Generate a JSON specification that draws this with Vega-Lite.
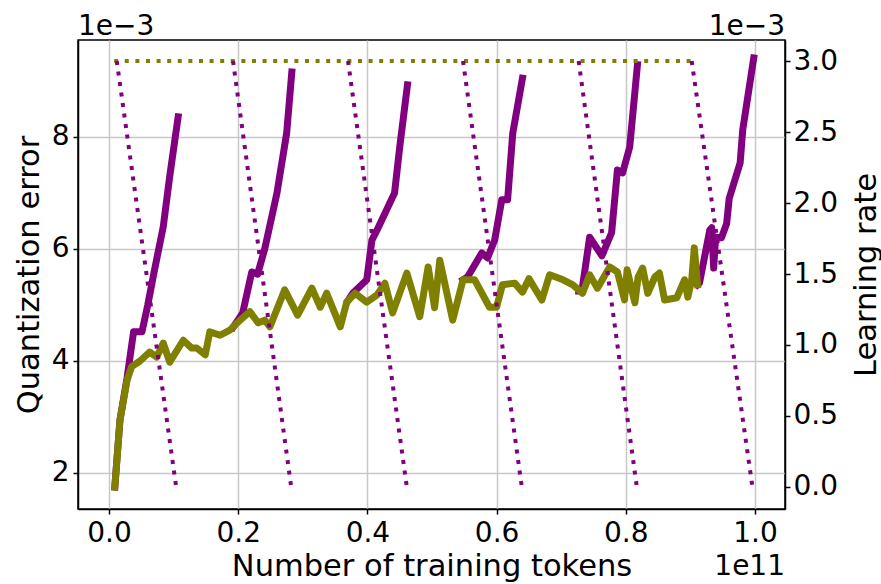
{
  "$schema": "https://vega.github.io/schema/vega-lite/v6.json",
  "width": 707,
  "height": 469,
  "autosize": {"type": "none"},
  "padding": {"left": 78, "top": 40, "right": 96, "bottom": 75},
  "datasets": {
    "error": [
      {"run": "cyclic", "seg": 1, "tokens": 0.009, "error": 1.75},
      {"run": "cyclic", "seg": 1, "tokens": 0.017, "error": 2.95},
      {"run": "cyclic", "seg": 1, "tokens": 0.028, "error": 3.7},
      {"run": "cyclic", "seg": 1, "tokens": 0.038, "error": 4.52},
      {"run": "cyclic", "seg": 1, "tokens": 0.051, "error": 4.52},
      {"run": "cyclic", "seg": 1, "tokens": 0.060, "error": 5.0},
      {"run": "cyclic", "seg": 1, "tokens": 0.070, "error": 5.6},
      {"run": "cyclic", "seg": 1, "tokens": 0.084, "error": 6.4},
      {"run": "cyclic", "seg": 1, "tokens": 0.094, "error": 7.3},
      {"run": "cyclic", "seg": 1, "tokens": 0.107, "error": 8.36},
      {"run": "cyclic", "seg": 2, "tokens": 0.192, "error": 4.6},
      {"run": "cyclic", "seg": 2, "tokens": 0.207, "error": 4.86},
      {"run": "cyclic", "seg": 2, "tokens": 0.221, "error": 5.59},
      {"run": "cyclic", "seg": 2, "tokens": 0.230, "error": 5.55},
      {"run": "cyclic", "seg": 2, "tokens": 0.241, "error": 6.0},
      {"run": "cyclic", "seg": 2, "tokens": 0.260, "error": 7.0},
      {"run": "cyclic", "seg": 2, "tokens": 0.275, "error": 8.07},
      {"run": "cyclic", "seg": 2, "tokens": 0.283, "error": 9.16},
      {"run": "cyclic", "seg": 3, "tokens": 0.370, "error": 5.08},
      {"run": "cyclic", "seg": 3, "tokens": 0.378, "error": 5.22},
      {"run": "cyclic", "seg": 3, "tokens": 0.399, "error": 5.45},
      {"run": "cyclic", "seg": 3, "tokens": 0.407, "error": 6.16},
      {"run": "cyclic", "seg": 3, "tokens": 0.415, "error": 6.34},
      {"run": "cyclic", "seg": 3, "tokens": 0.442, "error": 7.0},
      {"run": "cyclic", "seg": 3, "tokens": 0.450, "error": 7.82},
      {"run": "cyclic", "seg": 3, "tokens": 0.462, "error": 8.93},
      {"run": "cyclic", "seg": 4, "tokens": 0.548, "error": 5.45},
      {"run": "cyclic", "seg": 4, "tokens": 0.555, "error": 5.5},
      {"run": "cyclic", "seg": 4, "tokens": 0.577, "error": 5.93},
      {"run": "cyclic", "seg": 4, "tokens": 0.586, "error": 5.84},
      {"run": "cyclic", "seg": 4, "tokens": 0.597, "error": 6.16},
      {"run": "cyclic", "seg": 4, "tokens": 0.608, "error": 6.88},
      {"run": "cyclic", "seg": 4, "tokens": 0.617, "error": 6.88},
      {"run": "cyclic", "seg": 4, "tokens": 0.625, "error": 8.07},
      {"run": "cyclic", "seg": 4, "tokens": 0.640, "error": 9.05},
      {"run": "cyclic", "seg": 5, "tokens": 0.727, "error": 5.25},
      {"run": "cyclic", "seg": 5, "tokens": 0.732, "error": 5.25},
      {"run": "cyclic", "seg": 5, "tokens": 0.744, "error": 6.21},
      {"run": "cyclic", "seg": 5, "tokens": 0.763, "error": 5.88},
      {"run": "cyclic", "seg": 5, "tokens": 0.778, "error": 6.29},
      {"run": "cyclic", "seg": 5, "tokens": 0.787, "error": 7.41},
      {"run": "cyclic", "seg": 5, "tokens": 0.795, "error": 7.36},
      {"run": "cyclic", "seg": 5, "tokens": 0.806, "error": 7.82},
      {"run": "cyclic", "seg": 5, "tokens": 0.818, "error": 9.29},
      {"run": "cyclic", "seg": 6, "tokens": 0.911, "error": 5.36},
      {"run": "cyclic", "seg": 6, "tokens": 0.914, "error": 5.39},
      {"run": "cyclic", "seg": 6, "tokens": 0.930, "error": 6.34},
      {"run": "cyclic", "seg": 6, "tokens": 0.933, "error": 6.38},
      {"run": "cyclic", "seg": 6, "tokens": 0.936, "error": 5.66},
      {"run": "cyclic", "seg": 6, "tokens": 0.939, "error": 6.21},
      {"run": "cyclic", "seg": 6, "tokens": 0.948, "error": 6.2},
      {"run": "cyclic", "seg": 6, "tokens": 0.956, "error": 6.45},
      {"run": "cyclic", "seg": 6, "tokens": 0.960, "error": 6.9},
      {"run": "cyclic", "seg": 6, "tokens": 0.977, "error": 7.54},
      {"run": "cyclic", "seg": 6, "tokens": 0.981, "error": 8.13},
      {"run": "cyclic", "seg": 6, "tokens": 0.998, "error": 9.41},
      {"run": "constant", "seg": 0, "tokens": 0.009, "error": 1.75},
      {"run": "constant", "seg": 0, "tokens": 0.017, "error": 2.95},
      {"run": "constant", "seg": 0, "tokens": 0.028, "error": 3.66},
      {"run": "constant", "seg": 0, "tokens": 0.035, "error": 3.9},
      {"run": "constant", "seg": 0, "tokens": 0.048, "error": 4.0},
      {"run": "constant", "seg": 0, "tokens": 0.063, "error": 4.16},
      {"run": "constant", "seg": 0, "tokens": 0.074, "error": 4.07},
      {"run": "constant", "seg": 0, "tokens": 0.084, "error": 4.32},
      {"run": "constant", "seg": 0, "tokens": 0.094, "error": 3.98},
      {"run": "constant", "seg": 0, "tokens": 0.115, "error": 4.37},
      {"run": "constant", "seg": 0, "tokens": 0.128, "error": 4.23},
      {"run": "constant", "seg": 0, "tokens": 0.136, "error": 4.23},
      {"run": "constant", "seg": 0, "tokens": 0.149, "error": 4.11},
      {"run": "constant", "seg": 0, "tokens": 0.156, "error": 4.52},
      {"run": "constant", "seg": 0, "tokens": 0.172, "error": 4.46},
      {"run": "constant", "seg": 0, "tokens": 0.187, "error": 4.55},
      {"run": "constant", "seg": 0, "tokens": 0.203, "error": 4.73},
      {"run": "constant", "seg": 0, "tokens": 0.218, "error": 4.88},
      {"run": "constant", "seg": 0, "tokens": 0.231, "error": 4.68},
      {"run": "constant", "seg": 0, "tokens": 0.241, "error": 4.73},
      {"run": "constant", "seg": 0, "tokens": 0.249, "error": 4.61},
      {"run": "constant", "seg": 0, "tokens": 0.272, "error": 5.27},
      {"run": "constant", "seg": 0, "tokens": 0.292, "error": 4.82},
      {"run": "constant", "seg": 0, "tokens": 0.314, "error": 5.30},
      {"run": "constant", "seg": 0, "tokens": 0.327, "error": 4.96},
      {"run": "constant", "seg": 0, "tokens": 0.337, "error": 5.21},
      {"run": "constant", "seg": 0, "tokens": 0.358, "error": 4.61},
      {"run": "constant", "seg": 0, "tokens": 0.368, "error": 5.05},
      {"run": "constant", "seg": 0, "tokens": 0.381, "error": 5.21},
      {"run": "constant", "seg": 0, "tokens": 0.399, "error": 5.05},
      {"run": "constant", "seg": 0, "tokens": 0.415, "error": 5.18},
      {"run": "constant", "seg": 0, "tokens": 0.427, "error": 5.39},
      {"run": "constant", "seg": 0, "tokens": 0.439, "error": 4.86},
      {"run": "constant", "seg": 0, "tokens": 0.461, "error": 5.57},
      {"run": "constant", "seg": 0, "tokens": 0.481, "error": 4.79},
      {"run": "constant", "seg": 0, "tokens": 0.494, "error": 5.68},
      {"run": "constant", "seg": 0, "tokens": 0.504, "error": 4.95},
      {"run": "constant", "seg": 0, "tokens": 0.512, "error": 5.80},
      {"run": "constant", "seg": 0, "tokens": 0.532, "error": 4.73},
      {"run": "constant", "seg": 0, "tokens": 0.548, "error": 5.45},
      {"run": "constant", "seg": 0, "tokens": 0.566, "error": 5.45},
      {"run": "constant", "seg": 0, "tokens": 0.589, "error": 4.96},
      {"run": "constant", "seg": 0, "tokens": 0.600, "error": 4.96},
      {"run": "constant", "seg": 0, "tokens": 0.609, "error": 5.36},
      {"run": "constant", "seg": 0, "tokens": 0.628, "error": 5.39},
      {"run": "constant", "seg": 0, "tokens": 0.640, "error": 5.23},
      {"run": "constant", "seg": 0, "tokens": 0.650, "error": 5.47},
      {"run": "constant", "seg": 0, "tokens": 0.670, "error": 5.09},
      {"run": "constant", "seg": 0, "tokens": 0.682, "error": 5.54},
      {"run": "constant", "seg": 0, "tokens": 0.703, "error": 5.45},
      {"run": "constant", "seg": 0, "tokens": 0.718, "error": 5.36},
      {"run": "constant", "seg": 0, "tokens": 0.733, "error": 5.21},
      {"run": "constant", "seg": 0, "tokens": 0.744, "error": 5.54},
      {"run": "constant", "seg": 0, "tokens": 0.756, "error": 5.30},
      {"run": "constant", "seg": 0, "tokens": 0.775, "error": 5.68},
      {"run": "constant", "seg": 0, "tokens": 0.787, "error": 5.59},
      {"run": "constant", "seg": 0, "tokens": 0.798, "error": 5.09},
      {"run": "constant", "seg": 0, "tokens": 0.802, "error": 5.63},
      {"run": "constant", "seg": 0, "tokens": 0.814, "error": 5.04},
      {"run": "constant", "seg": 0, "tokens": 0.819, "error": 5.5},
      {"run": "constant", "seg": 0, "tokens": 0.826, "error": 5.66},
      {"run": "constant", "seg": 0, "tokens": 0.834, "error": 5.21},
      {"run": "constant", "seg": 0, "tokens": 0.845, "error": 5.50},
      {"run": "constant", "seg": 0, "tokens": 0.852, "error": 5.57},
      {"run": "constant", "seg": 0, "tokens": 0.860, "error": 5.09},
      {"run": "constant", "seg": 0, "tokens": 0.879, "error": 5.13},
      {"run": "constant", "seg": 0, "tokens": 0.886, "error": 5.32},
      {"run": "constant", "seg": 0, "tokens": 0.891, "error": 5.45},
      {"run": "constant", "seg": 0, "tokens": 0.896, "error": 5.14},
      {"run": "constant", "seg": 0, "tokens": 0.902, "error": 5.45},
      {"run": "constant", "seg": 0, "tokens": 0.906, "error": 6.02},
      {"run": "constant", "seg": 0, "tokens": 0.911, "error": 5.36}
    ],
    "lr": [
      {"run": "constant", "seg": 0, "tokens": 0.008, "lr": 3.0},
      {"run": "constant", "seg": 0, "tokens": 0.902, "lr": 3.0},
      {"run": "cyclic", "seg": 1, "tokens": 0.012, "lr": 3.0},
      {"run": "cyclic", "seg": 1, "tokens": 0.104, "lr": 0.0},
      {"run": "cyclic", "seg": 2, "tokens": 0.192, "lr": 3.0},
      {"run": "cyclic", "seg": 2, "tokens": 0.282, "lr": 0.0},
      {"run": "cyclic", "seg": 3, "tokens": 0.370, "lr": 3.0},
      {"run": "cyclic", "seg": 3, "tokens": 0.461, "lr": 0.0},
      {"run": "cyclic", "seg": 4, "tokens": 0.548, "lr": 3.0},
      {"run": "cyclic", "seg": 4, "tokens": 0.639, "lr": 0.0},
      {"run": "cyclic", "seg": 5, "tokens": 0.727, "lr": 3.0},
      {"run": "cyclic", "seg": 5, "tokens": 0.817, "lr": 0.0},
      {"run": "cyclic", "seg": 6, "tokens": 0.902, "lr": 3.0},
      {"run": "cyclic", "seg": 6, "tokens": 0.996, "lr": 0.0}
    ]
  },
  "layer": [
    {
      "layer": [
        {
          "data": {"name": "error"},
          "transform": [{"filter": "datum.run === 'cyclic'"}],
          "mark": {"type": "line", "color": "purple", "strokeWidth": 7, "strokeJoin": "round", "strokeCap": "square"},
          "encoding": {
            "x": {
              "field": "tokens", "type": "quantitative",
              "scale": {"domain": [-0.048, 1.0464], "nice": false, "zero": false},
              "axis": {
                "values": [0, 0.2, 0.4, 0.6, 0.8, 1.0], "format": ".1f",
                "title": "Number of training tokens",
                "titleBaseline": "alphabetic", "titleY": 66,
                "grid": true, "labelFlush": false, "labelOverlap": false, "labelPadding": 5
              }
            },
            "y": {
              "field": "error", "type": "quantitative",
              "scale": {"domain": [1.357, 9.732], "nice": false, "zero": false},
              "axis": {
                "values": [2, 4, 6, 8], "format": "d",
                "title": "Quantization error",
                "titleAngle": -90, "titleBaseline": "alphabetic", "titleAlign": "center",
                "titleX": -40, "titleY": 234.5,
                "grid": true, "labelFlush": false
              }
            },
            "detail": {"field": "seg"}
          }
        },
        {
          "data": {"name": "error"},
          "transform": [{"filter": "datum.run === 'constant'"}],
          "mark": {"type": "line", "color": "olive", "strokeWidth": 7, "strokeJoin": "round", "strokeCap": "square"},
          "encoding": {
            "x": {"field": "tokens", "type": "quantitative", "scale": {"domain": [-0.048, 1.0464], "nice": false, "zero": false}},
            "y": {"field": "error", "type": "quantitative", "scale": {"domain": [1.357, 9.732], "nice": false, "zero": false}}
          }
        },
        {
          "data": {"values": [{}]},
          "mark": {"type": "text", "text": "1e−3", "align": "left", "baseline": "alphabetic", "fontSize": 28, "color": "black"},
          "encoding": {
            "x": {"datum": -0.048, "type": "quantitative", "scale": {"domain": [-0.048, 1.0464], "nice": false, "zero": false}},
            "y": {"datum": 9.821, "type": "quantitative", "scale": {"domain": [1.357, 9.732], "nice": false, "zero": false}}
          }
        },
        {
          "data": {"values": [{}]},
          "mark": {"type": "text", "text": "1e−3", "align": "right", "baseline": "alphabetic", "fontSize": 28, "color": "black"},
          "encoding": {
            "x": {"datum": 1.0464, "type": "quantitative", "scale": {"domain": [-0.048, 1.0464], "nice": false, "zero": false}},
            "y": {"datum": 9.821, "type": "quantitative", "scale": {"domain": [1.357, 9.732], "nice": false, "zero": false}}
          }
        },
        {
          "data": {"values": [{}]},
          "mark": {"type": "text", "text": "1e11", "align": "right", "baseline": "alphabetic", "fontSize": 28, "color": "black"},
          "encoding": {
            "x": {"datum": 1.0464, "type": "quantitative", "scale": {"domain": [-0.048, 1.0464], "nice": false, "zero": false}},
            "y": {"datum": 0.179, "type": "quantitative", "scale": {"domain": [1.357, 9.732], "nice": false, "zero": false}}
          }
        }
      ]
    },
    {
      "layer": [
        {
          "data": {"name": "lr"},
          "transform": [{"filter": "datum.run === 'constant'"}],
          "mark": {"type": "line", "color": "olive", "strokeWidth": 4, "strokeDash": [4, 6.6], "strokeCap": "butt"},
          "encoding": {
            "x": {"field": "tokens", "type": "quantitative", "scale": {"domain": [-0.048, 1.0464], "nice": false, "zero": false}},
            "y": {
              "field": "lr", "type": "quantitative",
              "scale": {"domain": [-0.155, 3.148], "nice": false, "zero": false},
              "axis": {
                "orient": "right",
                "values": [0, 0.5, 1, 1.5, 2, 2.5, 3], "format": ".1f",
                "title": "Learning rate",
                "titleAngle": -90, "titleBaseline": "alphabetic", "titleAlign": "center",
                "titleX": 90, "titleY": 234.5,
                "grid": false, "labelFlush": false, "labelPadding": 3
              }
            }
          }
        },
        {
          "data": {"name": "lr"},
          "transform": [{"filter": "datum.run === 'cyclic'"}],
          "mark": {"type": "line", "color": "purple", "strokeWidth": 4, "strokeDash": [4, 6.6], "strokeCap": "butt"},
          "encoding": {
            "x": {"field": "tokens", "type": "quantitative", "scale": {"domain": [-0.048, 1.0464], "nice": false, "zero": false}},
            "y": {"field": "lr", "type": "quantitative", "scale": {"domain": [-0.155, 3.148], "nice": false, "zero": false}},
            "detail": {"field": "seg"}
          }
        }
      ]
    }
  ],
  "resolve": {"scale": {"y": "independent"}},
  "config": {
    "font": "DejaVu Sans",
    "background": "white",
    "view": {"stroke": "black", "strokeWidth": 1.5},
    "axis": {
      "labelFontSize": 28,
      "titleFontSize": 30.5,
      "titleFontWeight": "normal",
      "labelColor": "black",
      "titleColor": "black",
      "domainColor": "black",
      "domainWidth": 1.5,
      "tickColor": "black",
      "tickWidth": 1.5,
      "tickSize": 5,
      "gridColor": "#c8c8c8",
      "gridWidth": 1.5,
      "labelPadding": 4
    }
  }
}
